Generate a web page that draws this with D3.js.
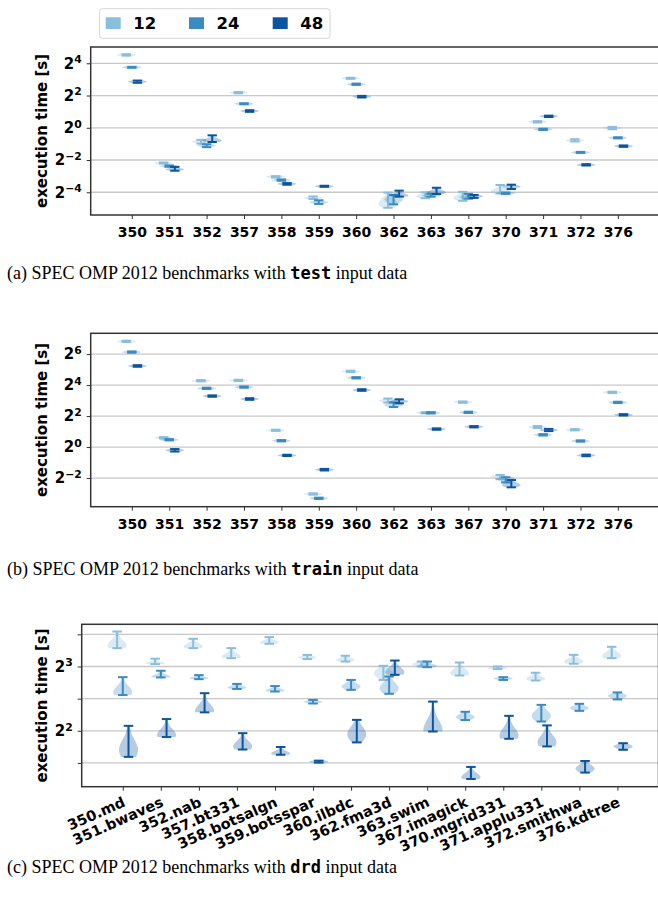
<!DOCTYPE html>
<html><head><meta charset="utf-8">
<script src="https://cdn.jsdelivr.net/npm/d3@7"></script>
<style>body{margin:0;background:#fff}svg text{white-space:pre}</style>
</head><body><svg id="chart" width="658" height="903"></svg>
<script>
const benchShort = ["350","351","352","357","358","359","360","362","363","367","370","371","372","376"];
const benchLong = ["350.md","351.bwaves","352.nab","357.bt331","358.botsalgn","359.botsspar","360.ilbdc","362.fma3d","363.swim","367.imagick","370.mgrid331","371.applu331","372.smithwa","376.kdtree"];
const threadCounts = ["12","24","48"];
const threadColors = ["#89bedc","#3b8bc2","#0b559f"];

// execution time in seconds: [min, max, mode] per benchmark
const test12 = [[22.3,23.6,22.9],[0.215,0.224,0.219],[0.507,0.595,0.551],[4.41,4.66,4.53],[0.118,0.125,0.122],[0.0467,0.0522,0.049],[8.22,8.57,8.4],[0.0321,0.0616,0.039],[0.0484,0.0625,0.0526],[0.0433,0.0638,0.049],[0.0596,0.0854,0.0647],[1.257,1.329,1.29],[0.555,0.611,0.58],[0.939,1.035,0.99]];
const test24 = [[13.2,13.7,13.5],[0.187,0.198,0.192],[0.435,0.493,0.467],[2.75,2.87,2.81],[0.1026,0.1083,0.105],[0.0379,0.0442,0.0407],[6.32,6.68,6.5],[0.0372,0.0557,0.0458],[0.0518,0.0583,0.0544],[0.0474,0.0583,0.0508],[0.0583,0.0616,0.06],[0.908,0.959,0.933],[0.339,0.354,0.346],[0.637,0.664,0.65]];
const test48 = [[6.92,7.62,7.26],[0.158,0.186,0.167],[0.543,0.723,0.574],[1.986,2.13,2.06],[0.0866,0.0928,0.0896],[0.0791,0.0825,0.0808],[3.68,3.94,3.81],[0.0518,0.067,0.0544],[0.0579,0.0758,0.0625],[0.049,0.0557,0.0526],[0.0718,0.0866,0.0797],[1.591,1.682,1.64],[0.198,0.209,0.203],[0.441,0.467,0.454]];

const train12 = [[109.9,116.2,113],[1.474,1.558,1.516],[18.9,20.0,19.4],[19.15,20.25,19.7],[2.06,2.17,2.11],[0.119,0.126,0.122],[28.6,30.3,29.5],[7.31,8.75,8.0],[4.53,4.72,4.63],[7.26,7.67,7.46],[0.2365,0.287,0.268],[2.35,2.55,2.45],[2.11,2.23,2.17],[11.24,11.88,11.55]];
const train24 = [[68.1,72.0,70],[1.347,1.424,1.385],[13.45,14.2,13.8],[14.2,15.0,14.6],[1.292,1.366,1.329],[0.0981,0.1037,0.101],[21.55,22.8,22.2],[5.98,7.36,6.5],[4.5,4.76,4.63],[4.59,4.86,4.72],[0.206,0.259,0.241],[1.68,1.78,1.73],[1.275,1.347,1.31],[7.16,7.57,7.36]];
const train48 = [[36.3,38.9,37.5],[0.818,0.914,0.865],[9.51,10.06,9.78],[8.28,8.88,8.57],[0.669,0.707,0.688],[0.351,0.376,0.363],[12.38,13.27,12.8],[7.06,8.45,7.73],[2.17,2.30,2.23],[2.41,2.55,2.48],[0.165,0.2285,0.183],[2.04,2.25,2.14],[0.664,0.712,0.688],[4.11,4.35,4.23]];

const drd12 = [[9.75,11.66,10.03],[8.21,8.70,8.26],[9.75,10.78,9.92],[8.75,9.75,8.91],[10.22,10.98,10.36],[8.67,9.06,8.82],[8.44,8.98,8.6],[6.92,8.06,7.45],[8.0,8.44,8.2],[7.26,8.35,7.45],[7.78,8.0,7.86],[6.88,7.48,7.01],[8.24,9.07,8.44],[8.75,9.89,8.98]];
const drd24 = [[5.88,7.13,6.07],[7.11,7.64,7.16],[6.98,7.29,7.06],[6.28,6.63,6.38],[6.11,6.48,6.18],[5.37,5.58,5.47],[6.22,6.92,6.45],[5.96,7.18,6.34],[7.94,8.44,8.06],[4.49,4.91,4.64],[6.92,7.13,7.03],[4.42,5.29,4.70],[4.96,5.35,5.11],[5.61,6.05,5.83]];
const drd48 = [[3.02,4.22,3.26],[3.74,4.54,3.83],[4.88,6.00,4.96],[3.27,3.90,3.38],[3.09,3.36,3.13],[2.84,2.90,2.87],[3.53,4.50,3.86],[7.31,8.53,7.53],[3.97,5.48,4.04],[2.38,2.71,2.43],[3.67,4.70,3.80],[3.38,4.24,3.54],[2.55,2.89,2.66],[3.26,3.50,3.38]];

// y tick exponents (labels 2^k)
const ticksTest = [-4,-2,0,2,4];
const ticksTrain = [-2,0,2,4,6];
const ticksDrd = [2,3];
const gridDrd = [1.5,2,2.5,3,3.5];

const captionParts = [
  ["(a) SPEC OMP 2012 benchmarks with ","test"," input data"],
  ["(b) SPEC OMP 2012 benchmarks with ","train"," input data"],
  ["(c) SPEC OMP 2012 benchmarks with ","drd"," input data"]
];

const svg = d3.select("#chart");
const FONT = "'DejaVu Sans', sans-serif";

const panels = [
  {series:[test12,test24,test48], cats:benchShort, left:90.7, right:659, top:47, bottom:215, dom:[-5.41,5.01], ticks:ticksTest, grid:ticksTest, rot:false, capY:279, pad:1.1},
  {series:[train12,train24,train48], cats:benchShort, left:90.7, right:659, top:333.3, bottom:506.7, dom:[-3.85,7.34], ticks:ticksTrain, grid:ticksTrain, rot:false, capY:575, pad:1.1},
  {series:[drd12,drd24,drd48], cats:benchLong, left:81.7, right:658.5, top:624.3, bottom:786.7, dom:[1.131,3.656], ticks:ticksDrd, grid:gridDrd, rot:true, capY:873, pad:1.08}
];

function supText(sel, e){
  sel.text(null);
  sel.append("tspan").text("2");
  sel.append("tspan").attr("dy","-0.5em").attr("font-size","0.72em").text(String(e).replace("-","\u2212"));
}

panels.forEach((p,pi)=>{
  const g = svg.append("g");
  const x = d3.scalePoint().domain(p.cats).range([p.left,p.right]).padding(p.pad);
  const step = x.step();
  const y = d3.scaleLog().base(2).domain([2**p.dom[0], 2**p.dom[1]]).range([p.bottom,p.top]);

  g.append("g").selectAll("line").data(p.grid).join("line")
    .attr("x1",p.left).attr("x2",p.right)
    .attr("y1",d=>y(2**d)).attr("y2",d=>y(2**d))
    .attr("stroke","#c8c8c8").attr("stroke-width",1.3);

  p.series.forEach((ser,j)=>{
    const col = threadColors[j];
    const off = (j-1)*0.15*step;
    const halfW = 0.25*step;
    const gb = g.append("g");
    ser.forEach((v,i)=>{
      const cx = x(p.cats[i]) + off;
      let yLo = y(v[0]), yHi = y(v[1]), yM = y(v[2]);
      let a = yHi, b = yLo;
      if (b - a < 3) { const c=(a+b)/2; a=c-1.6; b=c+1.6; }
      const s = Math.max((b-a)*0.32, 1.2);
      const N = 40, pts = [];
      for (let k=0;k<=N;k++){
        const yy = a + (b-a)*k/N;
        const w = halfW*(0.08 + 0.92*Math.exp(-0.5*((yy-yM)/s)**2));
        pts.push([yy,w]);
      }
      const poly = pts.map(q=>[cx+q[1],q[0]]).concat(pts.slice().reverse().map(q=>[cx-q[1],q[0]]));
      gb.append("path").attr("d", d3.line().curve(d3.curveLinearClosed)(poly))
        .attr("fill",col).attr("fill-opacity",0.3).attr("stroke","none");
    });
    const gl = g.append("g").attr("stroke",col).attr("stroke-width",2);
    ser.forEach((v,i)=>{
      const cx = x(p.cats[i]) + off;
      const capW = 0.125*step;
      gl.append("line").attr("x1",cx-capW).attr("x2",cx+capW).attr("y1",y(v[0])).attr("y2",y(v[0]));
      gl.append("line").attr("x1",cx-capW).attr("x2",cx+capW).attr("y1",y(v[1])).attr("y2",y(v[1]));
      gl.append("line").attr("x1",cx).attr("x2",cx).attr("y1",y(v[0])).attr("y2",y(v[1]));
    });
  });

  g.append("rect").attr("x",p.left).attr("y",p.top).attr("width",p.right-p.left).attr("height",p.bottom-p.top)
    .attr("fill","none").attr("stroke","#333").attr("stroke-width",1.5);

  const ya = g.append("g").attr("transform",`translate(${p.left},0)`)
    .call(d3.axisLeft(y).tickValues(p.grid.map(e=>2**e)).tickSize(4).tickPadding(5));
  ya.select(".domain").remove();
  ya.selectAll(".tick line").attr("stroke","#333").attr("stroke-width",1);
  ya.selectAll(".tick text").attr("font-family",FONT).attr("font-weight","bold").attr("font-size",15).attr("fill","#000")
    .each(function(d){
      const e = Math.round(Math.log2(d)*10)/10;
      if (p.ticks.includes(e)) supText(d3.select(this), e); else d3.select(this).text("");
    });

  const xa = g.append("g").attr("transform",`translate(0,${p.bottom})`)
    .call(d3.axisBottom(x).tickSize(4).tickPadding(p.rot?4:8));
  xa.select(".domain").remove();
  xa.selectAll(".tick line").attr("stroke","#333").attr("stroke-width",1);
  const xt = xa.selectAll(".tick text").attr("font-family",FONT).attr("font-weight","bold").attr("font-size",p.rot?14.5:14).attr("fill","#000");
  if (p.rot) {
    xt.attr("text-anchor","end").attr("dy",null).attr("y",0)
      .attr("transform","translate(3,19) rotate(-24)");
  }

  g.append("text").attr("transform",`translate(47,${(p.top+p.bottom)/2}) rotate(-90)`)
    .attr("text-anchor","middle").attr("font-family",FONT).attr("font-weight","bold").attr("font-size",15)
    .text("execution time [s]");

  const cp = captionParts[pi];
  const ct = svg.append("text").attr("x",7).attr("y",p.capY).attr("font-size",18).attr("fill","#000");
  ct.append("tspan").attr("font-family","'Liberation Serif', serif").text(cp[0]);
  ct.append("tspan").attr("font-family","'DejaVu Sans Mono', monospace").attr("font-weight","bold").attr("font-size",17).text(cp[1]);
  ct.append("tspan").attr("font-family","'Liberation Serif', serif").text(cp[2]);
});

const lg = svg.append("g");
lg.append("rect").attr("x",99.5).attr("y",8.7).attr("width",230.5).attr("height",29.6).attr("rx",3)
  .attr("fill","#fff").attr("stroke","#d6d6d6").attr("stroke-width",1);
const legX = [105.7, 189, 272.7];
threadCounts.forEach((t,j)=>{
  lg.append("rect").attr("x",legX[j]).attr("y",17.3).attr("width",15).attr("height",11.7).attr("fill",threadColors[j]);
  lg.append("text").attr("x",legX[j]+27.5).attr("y",29.2).attr("font-family",FONT).attr("font-weight","bold")
    .attr("font-size",16.5).text(t);
});
</script></body></html>
